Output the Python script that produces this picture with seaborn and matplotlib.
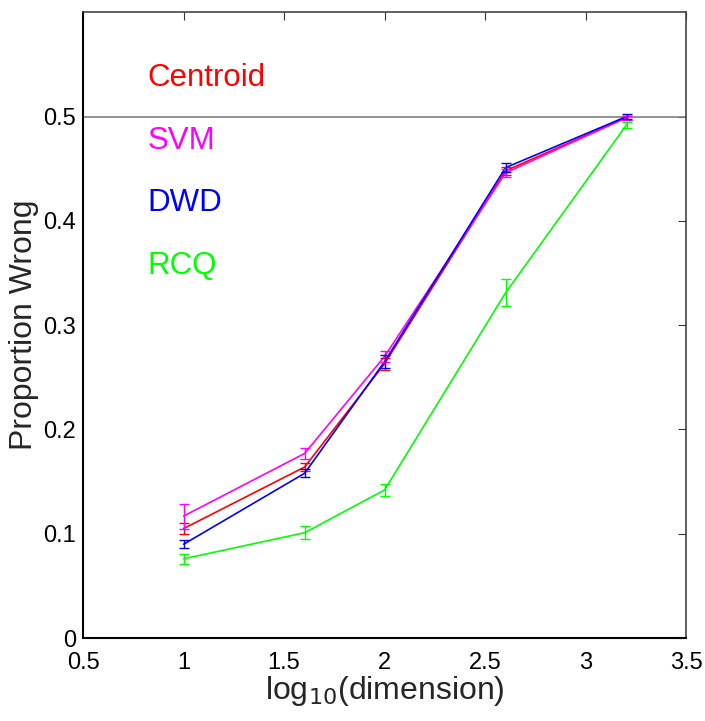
import seaborn as sns
import matplotlib.pyplot as plt
import pandas as pd
import numpy as np

sns.set_style("white")
plt.rcParams['font.family'] = ['Liberation Sans', 'DejaVu Sans']

# data
dims = [10, 40, 100, 400, 1600]
methods = ["Centroid", "SVM", "DWD", "RCQ"]
colors = {"Centroid": "#ff0000", "SVM": "#ff00ff", "DWD": "#0000ff", "RCQ": "#00ff00"}

centroid = [0.105, 0.164, 0.263, 0.448, 0.499]
centroid_err = [0.005, 0.004, 0.006, 0.004, 0.002]
svm = [0.117, 0.177, 0.270, 0.446, 0.499]
svm_err = [0.012, 0.005, 0.005, 0.004, 0.002]
dwd = [0.090, 0.158, 0.265, 0.451, 0.500]
dwd_err = [0.004, 0.004, 0.006, 0.004, 0.002]
rcq = [0.076, 0.101, 0.142, 0.331, 0.492]
rcq_err = [0.005, 0.006, 0.006, 0.013, 0.003]

label_y = [0.529, 0.469, 0.409, 0.349]

logd = np.log10(dims)
df = pd.DataFrame({
    "x": np.tile(logd, 4),
    "y": centroid + svm + dwd + rcq,
    "err": centroid_err + svm_err + dwd_err + rcq_err,
    "method": np.repeat(methods, len(dims)),
})

fig = plt.figure(figsize=(7.05, 7.21), dpi=100)
ax = fig.add_axes([0.118, 0.115, 0.855, 0.868])

ax.axhline(0.5, color="#808080", lw=1.2, zorder=1)

sns.lineplot(data=df, x="x", y="y", hue="method", palette=colors,
             hue_order=methods, lw=1.2, legend=False, ax=ax, zorder=3)
for m in methods:
    d = df[df["method"] == m]
    ax.errorbar(d["x"], d["y"], yerr=d["err"], fmt="none", ecolor=colors[m],
                elinewidth=1, capsize=3.5, capthick=1, zorder=3)

for m, ty in zip(methods, label_y):
    ax.text(0.82, ty, m, color=colors[m], fontsize=22.5, va="baseline", ha="left")

ax.set_xlim(0.5, 3.5)
ax.set_ylim(0, 0.6)
ax.set_xticks([0.5, 1, 1.5, 2, 2.5, 3, 3.5])
ax.set_xticklabels(["0.5", "1", "1.5", "2", "2.5", "3", "3.5"])
ax.set_yticks([0, 0.1, 0.2, 0.3, 0.4, 0.5])
ax.set_yticklabels(["0", "0.1", "0.2", "0.3", "0.4", "0.5"])
ax.tick_params(direction="in", length=6, width=0.8, labelsize=17,
               top=True, right=True, colors="#333333", labelcolor="black")
ax.tick_params(axis="x", pad=10)
ax.tick_params(axis="y", pad=5)

ax.set_xlabel("log$_{10}$(dimension)", fontsize=23, labelpad=0)
ax.set_ylabel("Proportion Wrong", fontsize=23, labelpad=3)

for side in ["left", "bottom"]:
    ax.spines[side].set_color("black")
    ax.spines[side].set_linewidth(1.5)
for side in ["top", "right"]:
    ax.spines[side].set_color("#444444")
    ax.spines[side].set_linewidth(1.2)

fig.savefig("out.png", dpi=100)
plt.close(fig)
